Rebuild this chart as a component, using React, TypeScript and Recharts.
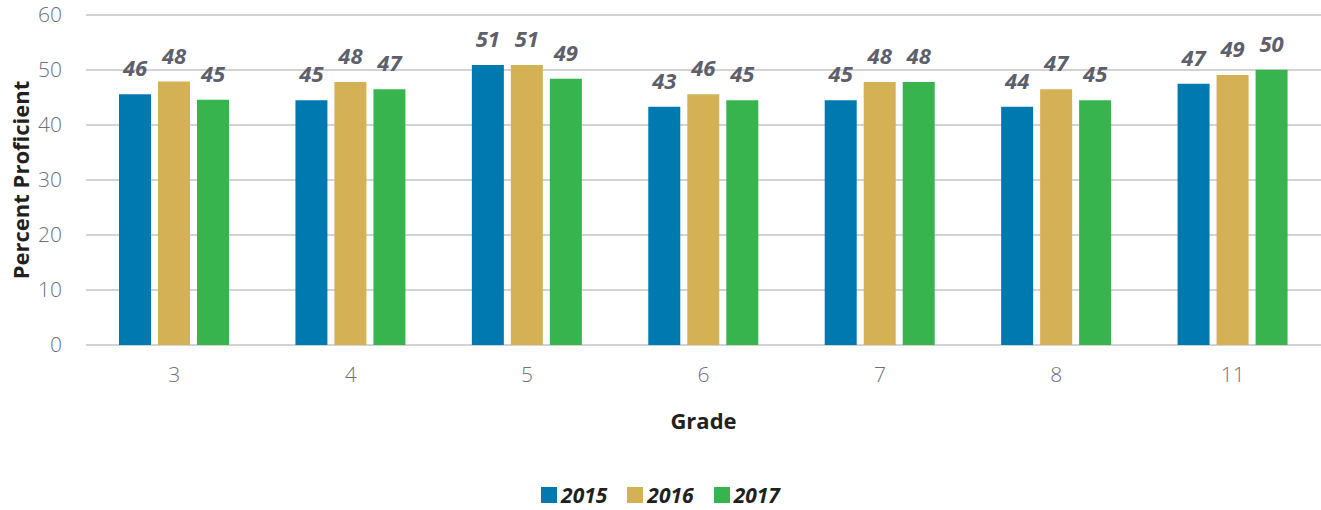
import { BarChart, Bar, XAxis, YAxis, CartesianGrid, Legend, LabelList } from "recharts";

const grades = ["3", "4", "5", "6", "7", "8", "11"];
const values2015 = [45.6, 44.5, 50.9, 43.3, 44.5, 43.3, 47.5];
const values2016 = [47.9, 47.8, 50.9, 45.6, 47.8, 46.5, 49.1];
const values2017 = [44.6, 46.5, 48.4, 44.5, 47.8, 44.5, 50.05];
const labels2015 = ["46", "45", "51", "43", "45", "44", "47"];
const labels2016 = ["48", "48", "51", "46", "48", "47", "49"];
const labels2017 = ["45", "47", "49", "45", "48", "45", "50"];
const yTicks = [0, 10, 20, 30, 40, 50, 60];

const series = [
  { key: "y2015", name: "2015", color: "#0079b0", labels: labels2015 },
  { key: "y2016", name: "2016", color: "#d4b155", labels: labels2016 },
  { key: "y2017", name: "2017", color: "#38b44f", labels: labels2017 },
];

const chartData = grades.map((grade, i) => ({
  grade,
  y2015: values2015[i],
  y2016: values2016[i],
  y2017: values2017[i],
}));

const FONT = '"Open Sans", "Noto Sans", sans-serif';

const renderLegend = () => (
  <div style={{ display: "flex", justifyContent: "center", alignItems: "center", height: 30, fontFamily: FONT }}>
    {series.map((s) => (
      <div key={s.key} style={{ display: "flex", alignItems: "center", margin: "0 10px" }}>
        <span style={{ width: 16, height: 16, background: s.color, display: "inline-block", marginRight: 4 }} />
        <span style={{ fontSize: 21, fontWeight: 700, fontStyle: "italic", color: "#231f20" }}>{s.name}</span>
      </div>
    ))}
  </div>
);

export default function App() {
  return (
    <div style={{ position: "absolute", left: 0, top: 0, width: 1321, height: 510, background: "#fff" }}>
      <BarChart
        width={1321}
        height={510}
        data={chartData}
        margin={{ top: 15, right: 0, left: 0, bottom: 0 }}
        barSize={32}
        barGap={7}
      >
        <CartesianGrid vertical={false} stroke="#d3d3d3" strokeWidth={2} />
        <XAxis
          dataKey="grade"
          height={135}
          axisLine={false}
          tickLine={false}
          tickSize={0}
          tickMargin={22}
          tick={{ fontSize: 21, fill: "#6d707a", fontFamily: FONT, fontWeight: 300 }}
          label={{
            content: (props: any) => {
              const vb = props.viewBox;
              return (
                <text
                  x={vb.x + vb.width / 2}
                  y={vb.y + 75}
                  textAnchor="middle"
                  dominantBaseline="central"
                  fontSize={22}
                  fontWeight={700}
                  fill="#231f20"
                  fontFamily={FONT}
                >
                  Grade
                </text>
              );
            },
          }}
        />
        <YAxis
          width={86}
          domain={[0, 60]}
          ticks={yTicks}
          axisLine={false}
          tickLine={false}
          tickSize={0}
          tickMargin={24}
          tick={{ fontSize: 21, fill: "#6d707a", fontFamily: FONT, fontWeight: 300 }}
          label={{
            content: (props: any) => {
              const vb = props.viewBox;
              const cx = vb.x + 20;
              const cy = vb.y + vb.height / 2;
              return (
                <text
                  x={cx}
                  y={cy}
                  transform={`rotate(-90 ${cx} ${cy})`}
                  textAnchor="middle"
                  dominantBaseline="central"
                  fontSize={22}
                  fontWeight={700}
                  fill="#231f20"
                  fontFamily={FONT}
                >
                  Percent Proficient
                </text>
              );
            },
          }}
        />
        <Legend verticalAlign="bottom" content={renderLegend} />
        {series.map((s) => (
          <Bar key={s.key} dataKey={s.key} name={s.name} fill={s.color} isAnimationActive={false}>
            <LabelList
              dataKey={s.key}
              position="top"
              content={(props: any) => (
                <text
                  x={props.x + props.width / 2}
                  y={props.y - 18}
                  textAnchor="middle"
                  fontSize={22}
                  fontWeight={700}
                  fontStyle="italic"
                  fill="#5d606a"
                  fontFamily={FONT}
                >
                  {s.labels[props.index]}
                </text>
              )}
            />
          </Bar>
        ))}
      </BarChart>
    </div>
  );
}
